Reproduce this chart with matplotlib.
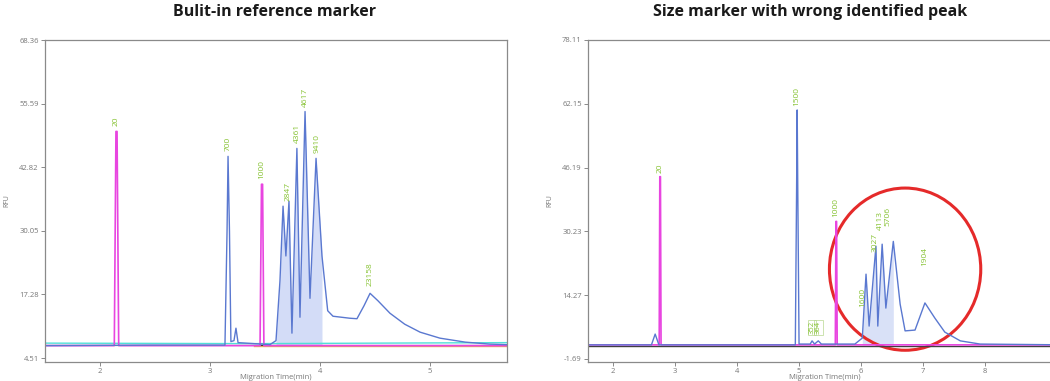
import matplotlib
matplotlib.use("Agg")
import matplotlib.pyplot as plt
from matplotlib.patches import Ellipse

plt.rcParams['font.family'] = ['Open Sans', 'DejaVu Sans']

# ---- left panel: built-in reference marker run ----
L_blue_t = [1.50, 2.45, 3.136, 3.155, 3.164, 3.177, 3.19, 3.218, 3.236, 3.255, 3.545, 3.60,
            3.636, 3.664, 3.69, 3.718, 3.745, 3.79, 3.818, 3.864, 3.909, 3.964, 4.018, 4.07,
            4.118, 4.27, 4.336, 4.40, 4.455, 4.527, 4.636, 4.77, 4.91, 5.09, 5.32, 5.545, 5.70]
L_blue_v = [7.0, 7.1, 7.1, 30.0, 45.0, 30.0, 7.8, 8.0, 10.5, 7.6, 7.2, 8.0,
            20.0, 35.0, 25.0, 36.0, 9.5, 46.6, 12.7, 54.0, 16.5, 44.6, 25.0, 14.0,
            12.9, 12.5, 12.4, 15.0, 17.5, 16.0, 13.5, 11.3, 9.7, 8.5, 7.7, 7.3, 7.2]
L_pink_t = [1.50, 2.13, 2.145, 2.155, 2.17, 3.455, 3.468, 3.478, 3.49, 5.70]
L_pink_v = [7.0, 7.0, 50.0, 50.0, 7.0, 7.0, 39.4, 39.4, 7.0, 7.0]
L_cyan_t = [1.50, 3.40, 5.70]
L_cyan_v = [7.5, 7.4, 7.6]
L_orange_t = [3.40, 5.70]
L_orange_v = [6.9, 6.9]

L_lab_t = [2.15, 3.164, 3.473, 3.71, 3.79, 3.864, 3.975]
L_lab_v = [50.0, 45.0, 39.4, 35.0, 46.6, 54.0, 44.6]
L_lab_s = ['20', '700', '1000', '2847', '4361', '4617', '9410']
L_big_lab = ('23158', 4.455, 17.5)

L_yticks = [4.51, 17.28, 30.05, 42.82, 55.59, 68.36]
L_xticks = [2, 3, 4, 5]

# ---- right panel: size marker with wrong identified peak ----
R_blue_t = [1.60, 2.62, 2.68, 2.74, 4.94, 4.96, 4.97, 4.98, 5.00, 5.18, 5.21, 5.25, 5.31, 5.36,
            5.90, 6.02, 6.08, 6.13, 6.24, 6.27, 6.34, 6.40, 6.52, 6.63, 6.71, 6.87, 7.03,
            7.19, 7.35, 7.60, 7.92, 9.30]
R_blue_v = [1.8, 1.8, 4.5, 1.8, 1.8, 40.0, 60.6, 40.0, 2.0, 2.0, 2.8, 2.0, 2.8, 2.0,
            2.0, 3.5, 19.5, 6.5, 26.5, 6.5, 27.0, 11.0, 27.7, 12.0, 5.3, 5.5, 12.3,
            8.5, 5.0, 2.8, 2.0, 1.8]
R_pink_t = [1.60, 2.745, 2.755, 2.765, 2.775, 5.585, 5.595, 5.605, 5.615, 9.30]
R_pink_v = [1.8, 1.8, 43.9, 43.9, 1.8, 1.8, 32.7, 32.7, 1.8, 1.8]
R_dark_t = [1.60, 9.30]
R_dark_v = [1.6, 1.6]

R_lab_t = [2.76, 4.97, 5.60, 6.03, 6.22, 6.31, 6.43]
R_lab_v = [43.9, 60.6, 32.7, 10.3, 24.0, 29.5, 30.5]
R_lab_s = ['20', '1500', '1000', '1600', '3027', '4113', '5706']
R_small_lab_t = [5.21, 5.31]
R_small_lab_s = ['352', '364']
R_big_lab = ('1904', 7.03, 16.5)

R_yticks = [-1.69, 14.27, 30.23, 46.19, 62.15, 78.11]
R_xticks = [2, 3, 4, 5, 6, 7, 8]

circle_c = (6.71, 20.75)
circle_wh = (2.44, 40.6)

blue = '#5a78d0'
pink = '#e845e0'
green = '#86c232'

fig = plt.figure(figsize=(10.5, 3.81), dpi=100)
axL = fig.add_axes([45 / 1050, 1 - 362 / 381, 462 / 1050, 322 / 381])
axR = fig.add_axes([588 / 1050, 1 - 362 / 381, 474 / 1050, 322 / 381])


def style(ax, yticks, xticks, xlim):
    ax.set_xlim(*xlim)
    ax.set_ylim(yticks[0] - 0.8, yticks[-1])
    ax.set_yticks(yticks)
    ax.set_yticklabels(['%.2f' % v for v in yticks])
    ax.set_xticks(xticks)
    ax.tick_params(labelsize=5.5, colors='#777777', length=3, width=0.6, pad=1.5)
    for s in ax.spines.values():
        s.set_color('#8a8a8a')
        s.set_linewidth(0.9)
    ax.set_xlabel('Migration Time(min)', fontsize=5.5, color='#777777', labelpad=-1)
    ax.set_ylabel('RFU', fontsize=5, color='#777777', labelpad=6)


style(axL, L_yticks, L_xticks, (1.5, 5.7))
style(axR, R_yticks, R_xticks, (1.597, 9.24))

# left traces
axL.plot(L_cyan_t, L_cyan_v, color='#50e0d8', lw=1.0)
axL.plot(L_orange_t, L_orange_v, color='#f0b060', lw=1.0)
axL.plot([1.5, 5.7], [7.05, 7.05], color='#404040', lw=0.8)
axL.fill_between(L_blue_t, 7.1, L_blue_v,
                 where=[3.6 <= t <= 4.02 for t in L_blue_t], color='#c8d4f5', alpha=0.8, lw=0)
axL.plot(L_pink_t, L_pink_v, color=pink, lw=1.2)
axL.plot(L_blue_t, L_blue_v, color=blue, lw=1.0)
for t, v, s in zip(L_lab_t, L_lab_v, L_lab_s):
    axL.text(t, v + 1.0, s, rotation=90, fontsize=6, color=green, ha='center', va='bottom')
axL.text(L_big_lab[1], L_big_lab[2] + 1.5, L_big_lab[0], rotation=90, fontsize=6,
         color=green, ha='center', va='bottom')

# right traces
axR.plot(R_dark_t, R_dark_v, color='#404040', lw=1.0)
axR.plot(R_pink_t, R_pink_v, color=pink, lw=1.2)
axR.fill_between(R_blue_t, 1.8, R_blue_v,
                 where=[6.0 <= t <= 6.55 for t in R_blue_t], color='#d0daf6', alpha=0.8, lw=0)
axR.plot(R_blue_t, R_blue_v, color=blue, lw=1.0)
for t, v, s in zip(R_lab_t, R_lab_v, R_lab_s):
    axR.text(t, v + 1.0, s, rotation=90, fontsize=6, color=green, ha='center', va='bottom')
for t, s in zip(R_small_lab_t, R_small_lab_s):
    axR.text(t, 4.5, s, rotation=90, fontsize=5.5, color=green, ha='center', va='bottom',
             bbox=dict(boxstyle='square,pad=0.1', fc='none', ec='#b8d890', lw=0.5))
axR.text(R_big_lab[1], R_big_lab[2] + 5, R_big_lab[0], rotation=90, fontsize=6,
         color=green, ha='center', va='bottom')
axR.add_patch(Ellipse(circle_c, circle_wh[0], circle_wh[1], fill=False,
                      edgecolor='#e52a2a', lw=2.2))

fig.text(275 / 1050, 1 - 12 / 381, 'Bulit-in reference marker', fontsize=11.5,
         fontweight='bold', ha='center', va='center', color='#1a1a1a')
fig.text(810 / 1050, 1 - 12 / 381, 'Size marker with wrong identified peak', fontsize=11.5,
         fontweight='bold', ha='center', va='center', color='#1a1a1a')

fig.savefig('out.png', dpi=100)
